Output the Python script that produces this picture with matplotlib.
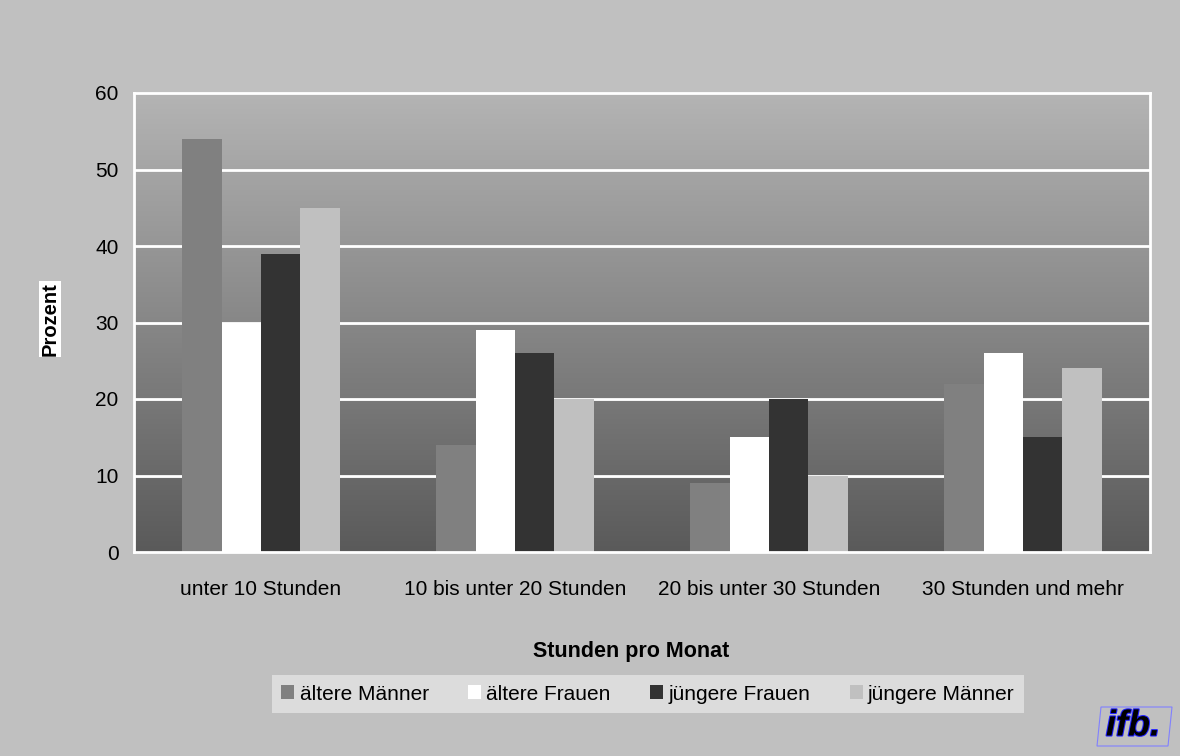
import numpy as np
import matplotlib.pyplot as plt
from matplotlib.patches import Patch, Polygon
from matplotlib.colors import LinearSegmentedColormap
import matplotlib.patheffects as pe

plt.rcParams['font.family'] = ['Liberation Sans', 'DejaVu Sans']

categories = ['unter 10 Stunden', '10 bis unter 20 Stunden',
              '20 bis unter 30 Stunden', '30 Stunden und mehr']
series = ['ältere Männer', 'ältere Frauen', 'jüngere Frauen', 'jüngere Männer']
values = [
    [54, 14, 9, 22],   # ältere Männer
    [30, 29, 15, 26],  # ältere Frauen
    [39, 26, 20, 15],  # jüngere Frauen
    [45, 20, 10, 24],  # jüngere Männer
]
colors = ['#808080', '#ffffff', '#333333', '#c0c0c0']
yticks = [0, 10, 20, 30, 40, 50, 60]

fig = plt.figure(figsize=(11.8, 7.56), dpi=100, facecolor='#c0c0c0')
ax = fig.add_axes([134 / 1180, 1 - 552 / 756, (1150 - 134) / 1180, (552 - 93) / 756])
ax.set_facecolor('#c0c0c0')

# vertical gradient background
grad = np.linspace(0, 1, 256).reshape(-1, 1)
cmap = LinearSegmentedColormap.from_list('g', ['#5a5a5a', '#b4b4b4'])
ax.imshow(grad, extent=[-0.5, 3.5, 0, 60], aspect='auto', origin='lower',
          cmap=cmap, zorder=0)

# gridlines with a faint shadow
for y in yticks[1:-1]:
    ax.axhline(y - 0.15, color='#a0a0a0', lw=1.5, zorder=1)
    ax.axhline(y, color='white', lw=2, zorder=1)

x = np.arange(len(categories))
w = 0.155
for i, (name, vals) in enumerate(zip(series, values)):
    ax.bar(x + (i - 1.5) * w, vals, width=w, color=colors[i], zorder=2)

ax.set_xlim(-0.5, 3.5)
ax.set_ylim(0, 60)
ax.set_yticks(yticks)
ax.set_xticks(x)
ax.set_xticklabels(categories)
ax.tick_params(length=0, labelsize=15, colors='black')
ax.tick_params(axis='y', pad=11)
ax.tick_params(axis='x', pad=20.5)
for s in ax.spines.values():
    s.set_color('white')
    s.set_linewidth(2)

fig.text(50 / 1180, 1 - 319 / 756, 'Prozent', rotation=90, ha='center', va='center',
         fontsize=14.5, fontweight='bold',
         bbox=dict(facecolor='white', edgecolor='none', pad=1))
fig.text(631 / 1180, 1 - 651 / 756, 'Stunden pro Monat', ha='center', va='center',
         fontsize=15.5, fontweight='bold')

handles = [Patch(facecolor=c, edgecolor='none') for c in colors]
leg = fig.legend(handles, series, loc='center', ncol=4,
                 bbox_to_anchor=(648 / 1180, 1 - 694 / 756),
                 frameon=True, facecolor='#dcdcdc', edgecolor='none', fancybox=False,
                 fontsize=15, handlelength=0.62, handleheight=0.62, handletextpad=0.25,
                 columnspacing=1.9, borderpad=0.45, borderaxespad=0)
leg.get_frame().set_alpha(1)

# ifb logo
box = Polygon([[1097 / 1180, 1 - 746 / 756], [1168 / 1180, 1 - 746 / 756],
               [1172 / 1180, 1 - 707 / 756], [1101 / 1180, 1 - 707 / 756]],
              closed=True, transform=fig.transFigure, facecolor='none',
              edgecolor='#8080ff', lw=0.8)
fig.add_artist(box)
fig.text(1133 / 1180, 1 - 726 / 756, 'ifb.', ha='center', va='center',
         fontsize=26, fontweight='bold', style='italic', color='black',
         path_effects=[pe.withStroke(linewidth=1.5, foreground='#2020ff')])

fig.savefig('out.png', dpi=100, facecolor=fig.get_facecolor())
